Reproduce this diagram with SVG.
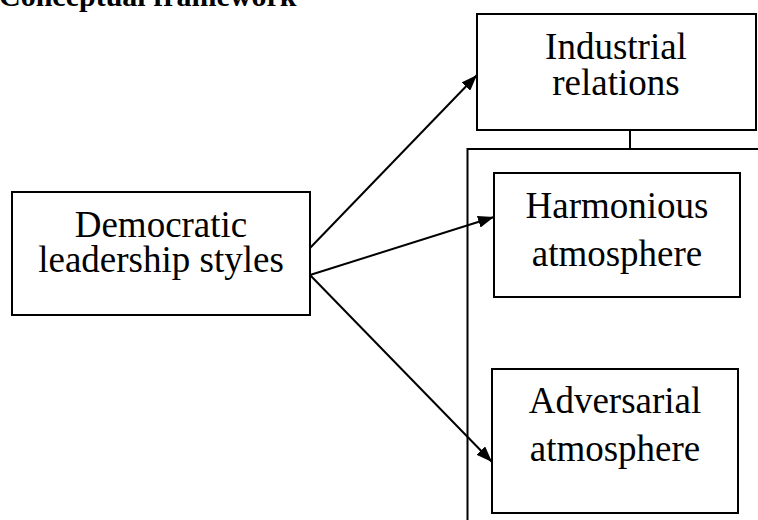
<svg xmlns="http://www.w3.org/2000/svg" width="758" height="520" viewBox="0 0 758 520">
<style>
.box{fill:#fff;stroke:#000;stroke-width:2}
.t{font-family:"Liberation Serif","Times New Roman",serif;font-size:37px;fill:#000;text-anchor:middle}
.title{font-family:"Liberation Serif","Times New Roman",serif;font-size:30px;font-weight:bold;fill:#000}
.ln{stroke:#000;stroke-width:2;fill:none}
</style>
<defs>
<marker id="ah" viewBox="0 0 10 10" refX="10" refY="5" markerWidth="8" markerHeight="8" markerUnits="userSpaceOnUse" orient="auto">
<path d="M0,0 L10,5 L0,10 z" fill="#000"/>
</marker>
<marker id="arr" viewBox="0 0 16 12" refX="16" refY="6" markerWidth="16" markerHeight="12" markerUnits="userSpaceOnUse" orient="auto">
<path d="M0,0 L16,6 L0,12 z" fill="#000"/>
</marker>
</defs>
<text class="title" x="-1" y="6">Conceptual framework</text>
<g id="connectors">
<line class="ln" x1="630" y1="130" x2="630" y2="149"/>
<polyline class="ln" points="467.5,520 467.5,149 760,149"/>
<line class="ln" x1="310" y1="248" x2="477" y2="75" marker-end="url(#arr)"/>
<line class="ln" x1="310" y1="275" x2="494" y2="217" marker-end="url(#arr)"/>
<line class="ln" x1="310" y1="275" x2="492" y2="462" marker-end="url(#arr)"/>
</g>
<g id="democratic">
<rect class="box" x="12" y="192" width="298" height="123"/>
<text class="t" x="161" y="237">Democratic</text>
<text class="t" x="161" y="272">leadership styles</text>
</g>
<g id="industrial">
<rect class="box" x="477" y="14" width="279" height="116"/>
<text class="t" x="616" y="59">Industrial</text>
<text class="t" x="616" y="95">relations</text>
</g>
<g id="harmonious">
<rect class="box" x="494" y="173" width="246" height="124"/>
<text class="t" x="617" y="218">Harmonious</text>
<text class="t" x="617" y="266">atmosphere</text>
</g>
<g id="adversarial">
<rect class="box" x="492" y="369" width="246" height="144"/>
<text class="t" x="615" y="413">Adversarial</text>
<text class="t" x="615" y="461">atmosphere</text>
</g>
</svg>
